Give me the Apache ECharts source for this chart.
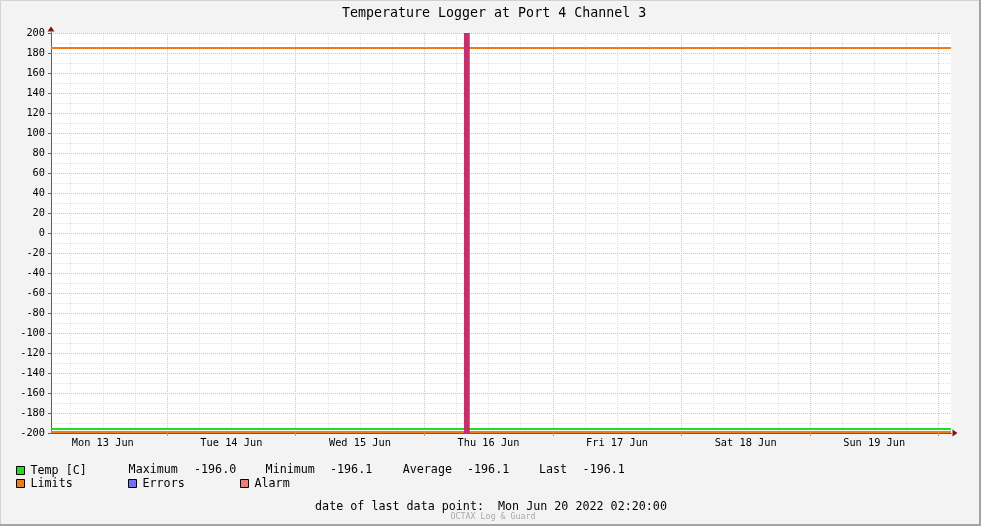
<!DOCTYPE html>
<html><head><meta charset="utf-8">
<script src="https://cdn.jsdelivr.net/npm/echarts@6/dist/echarts.min.js"></script>
<style>html,body{margin:0;padding:0;background:#f3f3f3}#c{width:981px;height:526px}</style>
</head><body><div id="c"></div>
<script>
// ---------- data ----------
const startTime = Date.UTC(2022, 5, 13, 2, 20);
const endTime = Date.UTC(2022, 5, 20, 2, 20);
const dayLabels = ['Mon 13 Jun', 'Tue 14 Jun', 'Wed 15 Jun', 'Thu 16 Jun', 'Fri 17 Jun', 'Sat 18 Jun', 'Sun 19 Jun'];
const dayLabelTimes = [13, 14, 15, 16, 17, 18, 19].map(d => Date.UTC(2022, 5, d, 12, 0));
const midnightTimes = [14, 15, 16, 17, 18, 19, 20].map(d => Date.UTC(2022, 5, d, 0, 0));
const quarterDayTimes = [];
[13, 14, 15, 16, 17, 18, 19].forEach(d => [6, 12, 18].forEach(h => quarterDayTimes.push(Date.UTC(2022, 5, d, h, 0))));

const tempTimes = [startTime, Date.UTC(2022,5,14,0,0), Date.UTC(2022,5,15,0,0), Date.UTC(2022,5,16,0,0),
  Date.UTC(2022,5,17,0,0), Date.UTC(2022,5,18,0,0), Date.UTC(2022,5,19,0,0), endTime];
const tempValues = [-196.1, -196.1, -196.0, -196.1, -196.1, -196.1, -196.1, -196.1];
const limitTimes = [startTime, endTime];
const upperLimitValues = [185, 185];
const lowerLimitValues = [-199, -199];
const alarmSpan = [Date.UTC(2022, 5, 16, 7, 25), Date.UTC(2022, 5, 16, 8, 30)];

const statLabels = ['Maximum', 'Minimum', 'Average', 'Last'];
const statValues = ['-196.0', '-196.1', '-196.1', '-196.1'];
const titleText = 'Temperature Logger at Port 4 Channel 3';
const lastPointText = 'date of last data point:  Mon Jun 20 2022 02:20:00';
const watermarkText = 'OCTAX Log & Guard';

// ---------- styling ----------
const MONO = '"DejaVu Sans Mono", monospace';
const C_TEMP = '#1ee01e', C_LIM = '#f27a14', C_ERR = '#7070ff', C_ALARM = '#f87878', C_BAR = '#c3306e';
const AX = '#606060', ARROW = '#7a1414';
const MAJOR = '#eab8b8', MINOR = '#e2e2e2';

const chart = echarts.init(document.getElementById('c'), null, { renderer: 'canvas' });

function legendBox(name, left, top) {
  return {
    left: left, top: top, padding: 0, itemWidth: 8, itemHeight: 8, selectedMode: false,
    data: [{ name: name, icon: 'rect', itemStyle: { borderColor: '#000', borderWidth: 1 } }],
    textStyle: { fontFamily: MONO, fontSize: 11.7, color: '#000', padding: [0, 0, 0, 1] }
  };
}

const statLabelX = [128.6, 265.6, 402.7, 539];
const statValueX = [194, 330, 467, 582.6];
const graphics = [
  { type: 'polyline', silent: true, shape: { points: [[0.5, 525], [0.5, 0.5], [980, 0.5]] }, style: { stroke: '#d2d2d2', lineWidth: 1, fill: null } },
  { type: 'polyline', silent: true, shape: { points: [[980, 0], [980, 525], [0, 525]] }, style: { stroke: '#a4a4a4', lineWidth: 2, fill: null } },
  { type: 'text', silent: true, x: 491, y: 507, style: { text: lastPointText, font: '11.7px ' + MONO, fill: '#000', align: 'center', verticalAlign: 'middle' } },
  { type: 'text', silent: true, x: 493, y: 516.5, style: { text: watermarkText, font: '8.3px ' + MONO, fill: '#a8a8a8', align: 'center', verticalAlign: 'middle' } }
];
statLabels.forEach((s, i) => {
  graphics.push({ type: 'text', silent: true, x: statLabelX[i], y: 470, style: { text: s, font: '11.7px ' + MONO, fill: '#000', align: 'left', verticalAlign: 'middle' } });
  graphics.push({ type: 'text', silent: true, x: statValueX[i], y: 470, style: { text: statValues[i], font: '11.7px ' + MONO, fill: '#000', align: 'left', verticalAlign: 'middle' } });
});

const zip = (xs, ys) => xs.map((x, i) => [x, ys[i]]);

const option = {
  animation: false,
  backgroundColor: '#f3f3f3',
  title: {
    text: titleText, left: 342, top: 7.5, padding: 0,
    textStyle: { fontFamily: MONO, fontSize: 13.3, fontWeight: 'normal', color: '#000' }
  },
  legend: [
    legendBox('Temp [C]', 16, 464.5),
    legendBox('Limits', 16, 477.5),
    legendBox('Errors', 128, 477.5),
    legendBox('Alarm', 240, 477.5)
  ],
  graphic: graphics,
  grid: { left: 51, right: 30, top: 33, bottom: 93, show: true, backgroundColor: '#ffffff', borderWidth: 0, containLabel: false },
  xAxis: [
    { // arrow (under main line)
      type: 'value', min: startTime, max: endTime, position: 'bottom', z: 0,
      axisLine: { show: true, onZero: false, symbol: ['none', 'triangle'], symbolSize: [7, 5], symbolOffset: [0, 4], lineStyle: { color: ARROW, width: 1 } },
      axisTick: { show: false }, axisLabel: { show: false }, splitLine: { show: false }
    },
    { // minor grid every 6 h
      type: 'value', min: startTime, max: endTime, position: 'bottom', z: 0,
      axisLine: { show: false, onZero: false },
      axisTick: { show: false, customValues: quarterDayTimes },
      axisLabel: { show: false },
      splitLine: { show: true, lineStyle: { color: MINOR, type: [1, 1], width: 1 } }
    },
    { // main axis: midnight grid + day labels at noon
      type: 'value', min: startTime, max: endTime, position: 'bottom', z: 1,
      axisLine: { show: true, onZero: false, lineStyle: { color: AX, width: 1 } },
      axisTick: { show: true, customValues: midnightTimes, length: 3, lineStyle: { color: '#c89090' } },
      axisLabel: {
        show: true, customValues: dayLabelTimes, margin: 5,
        fontFamily: MONO, fontSize: 10.3, color: '#000',
        formatter: v => { const i = dayLabelTimes.indexOf(v); return i >= 0 ? dayLabels[i] : ''; }
      },
      splitLine: { show: true, lineStyle: { color: MAJOR, type: [1, 1], width: 1 } }
    }
  ],
  yAxis: [
    { // arrow
      type: 'value', min: -200, max: 200, interval: 20, position: 'left', z: 0,
      axisLine: { show: true, onZero: false, symbol: ['none', 'triangle'], symbolSize: [7, 5], symbolOffset: [0, 4], lineStyle: { color: ARROW, width: 1 } },
      axisTick: { show: false }, axisLabel: { show: false }, splitLine: { show: false }
    },
    {
      type: 'value', min: -200, max: 200, interval: 20, position: 'left', z: 1,
      axisLine: { show: true, onZero: false, lineStyle: { color: AX, width: 1 } },
      axisTick: { show: true, length: 3, lineStyle: { color: AX } },
      minorTick: { show: false, splitNumber: 2 },
      axisLabel: { margin: 6, fontFamily: MONO, fontSize: 10.3, color: '#000' },
      splitLine: { show: true, lineStyle: { color: MAJOR, type: [1, 1], width: 1 } },
      minorSplitLine: { show: true, lineStyle: { color: MINOR, type: [1, 1], width: 1 } }
    }
  ],
  series: [
    { name: 'Temp [C]', type: 'line', xAxisIndex: 2, yAxisIndex: 1, data: zip(tempTimes, tempValues), showSymbol: false, symbol: 'none',
      color: C_TEMP, lineStyle: { color: C_TEMP, width: 2 }, z: 2 },
    { name: 'Limits', type: 'line', xAxisIndex: 2, yAxisIndex: 1, data: zip(limitTimes, upperLimitValues), showSymbol: false, symbol: 'none',
      color: C_LIM, lineStyle: { color: C_LIM, width: 2 }, z: 2 },
    { name: 'Limits', type: 'line', xAxisIndex: 2, yAxisIndex: 1, data: zip(limitTimes, lowerLimitValues), showSymbol: false, symbol: 'none',
      color: C_LIM, lineStyle: { color: C_LIM, width: 2 }, z: 2 },
    { name: 'Errors', type: 'line', xAxisIndex: 2, yAxisIndex: 1, data: [], color: C_ERR, symbol: 'none' },
    { name: 'Alarm', type: 'line', xAxisIndex: 2, yAxisIndex: 1, data: [], color: C_ALARM, symbol: 'none', z: 4,
      markArea: { silent: true, z: 4, itemStyle: { color: C_BAR, opacity: 1 },
        data: [[{ xAxis: alarmSpan[0] }, { xAxis: alarmSpan[1] }]] } }
  ]
};
chart.setOption(option);
</script>
</body></html>
